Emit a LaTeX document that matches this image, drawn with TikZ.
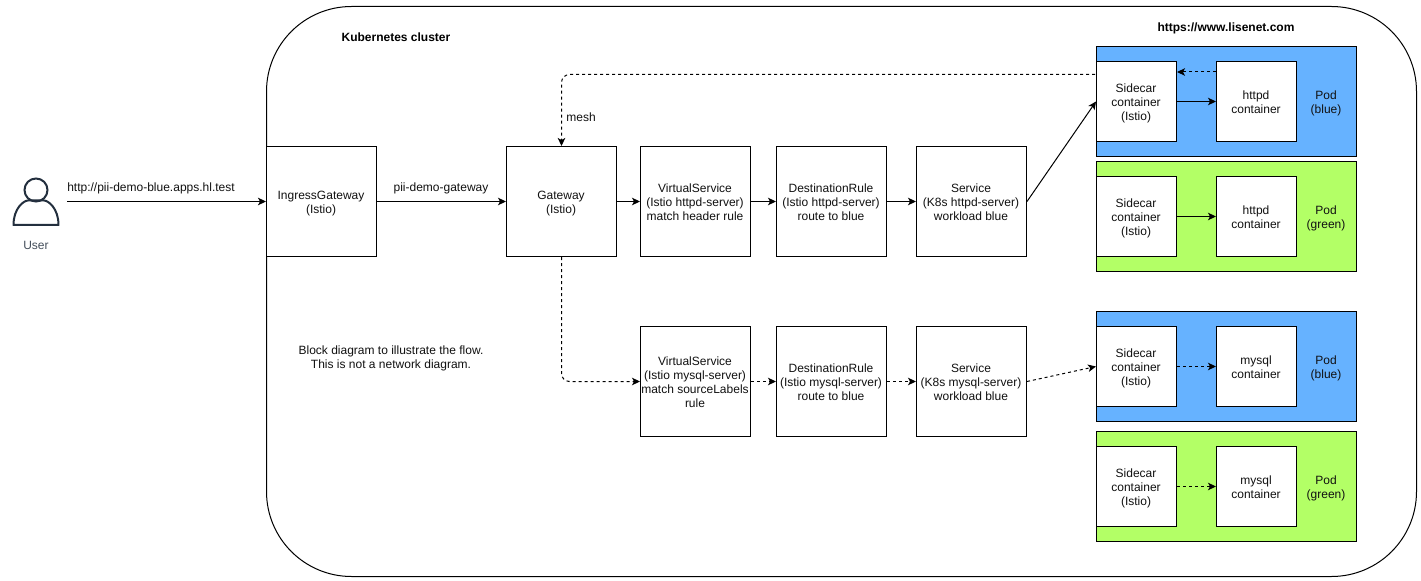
\documentclass[tikz,border=0pt]{standalone}
\usepackage{fontspec}
\setmainfont{Liberation Sans}
\usetikzlibrary{arrows.meta}
\definecolor{podblue}{HTML}{66B2FF}
\definecolor{podgreen}{HTML}{B3FF66}
\definecolor{usercol}{HTML}{232F3E}
\definecolor{txt}{HTML}{111111}
\tikzset{
  x=0.75pt,y=-0.75pt,
  every node/.style={font=\fontsize{9}{10.5}\selectfont,text=txt,align=center,inner sep=0pt},
  boldlbl/.style={font=\fontsize{9}{10.5}\selectfont\bfseries,text=black},
  bal/.style={execute at begin node={\rule{0pt}{#1}},execute at end node={\rule[-1.5pt]{0pt}{1.5pt}\kern0.75pt}},
  bal/.default=19.5pt,
  bigbox/.style={bal=#1,draw=black,line width=0.75pt,fill=white,minimum width=82.5pt,minimum height=82.5pt},
  bigbox/.default=30pt,
  ctbox/.style={bal=#1,draw=black,line width=0.75pt,fill=white,minimum width=60pt,minimum height=60pt},
  ctbox/.default=30pt,
  podbox/.style={draw=black,line width=0.75pt,minimum width=195pt,minimum height=82.5pt},
  bluepod/.style={podbox,fill=podblue},
  greenpod/.style={podbox,fill=podgreen},
  flow/.style={draw=black,line width=0.75pt,-{Stealth[length=6pt,width=5.6pt,inset=1.5pt]}},
  dflow/.style={flow,dash pattern=on 2.25pt off 2.25pt},
}
\begin{document}
\begin{tikzpicture}
\useasboundingbox (0,0) rectangle (1421,581);
% cluster
\draw[line width=0.75pt,draw=black,fill=white,rounded corners=63.75pt] (266.5,6.5) rectangle (1416.5,576.5);
\node[boldlbl] (cluster) at (396,37) {Kubernetes cluster};
\node[boldlbl] (site) at (1226,28.5) {https://www.lisenet.com};
% user icon
\node[minimum width=34.5pt,minimum height=36pt] (user) at (36,201) {};
\draw[usercol,line width=1.5pt] (36,190) circle [radius=11.5];
\draw[usercol,line width=1.5pt,line join=round] (13.5,225) .. controls (13.5,208) and (24,200.5) .. (28,200.5) -- (44,200.5) .. controls (48,200.5) and (58.5,208) .. (58.5,225) -- cycle;
\node[text=usercol!85!white] (userlbl) at (36,245) {User};
\coordinate (userout) at (67,201.5);
% pods
\node[bluepod]  (p1) at (1226.5,101.5) {};
\node[greenpod] (p2) at (1226.5,216.5) {};
\node[bluepod]  (p3) at (1226.5,366.5) {};
\node[greenpod] (p4) at (1226.5,486.5) {};
\node[bal] (p1t) at (1326.5,101.5) {Pod\\(blue)};
\node[bal] (p2t) at (1326.5,216.5) {Pod\\(green)};
\node[bal] (p3t) at (1326.5,366.5) {Pod\\(blue)};
\node[bal] (p4t) at (1326.5,486.5) {Pod\\(green)};
\node[ctbox] (s1) at (1136.5,101.5) {Sidecar\\container\\(Istio)};
\node[ctbox=19.5pt] (c1) at (1256.5,101.5) {httpd\\container};
\node[ctbox] (s2) at (1136.5,216.5) {Sidecar\\container\\(Istio)};
\node[ctbox=19.5pt] (c2) at (1256.5,216.5) {httpd\\container};
\node[ctbox] (s3) at (1136.5,366.5) {Sidecar\\container\\(Istio)};
\node[ctbox=19.5pt] (c3) at (1256.5,366.5) {mysql\\container};
\node[ctbox] (s4) at (1136.5,486.5) {Sidecar\\container\\(Istio)};
\node[ctbox=19.5pt] (c4) at (1256.5,486.5) {mysql\\container};
% main flow
\node[bigbox=19.5pt] (ing) at (321.5,201.5) {IngressGateway\\(Istio)};
\node[bigbox=19.5pt] (gw)  at (561.5,201.5) {Gateway\\(Istio)};
\node[bigbox] (vs1) at (695.5,201.5) {VirtualService\\(Istio httpd-server)\\match header rule};
\node[bigbox] (dr1) at (831.5,201.5) {DestinationRule\\(Istio httpd-server)\\route to blue};
\node[bigbox] (sv1) at (971.5,201.5) {Service\\(K8s httpd-server)\\workload blue};
\node[bigbox=40.5pt] (vs2) at (695.5,381.5) {VirtualService\\(Istio mysql-server)\\match sourceLabels\\rule};
\node[bigbox] (dr2) at (831.5,381.5) {DestinationRule\\(Istio mysql-server)\\route to blue};
\node[bigbox] (sv2) at (971.5,381.5) {Service\\(K8s mysql-server)\\workload blue};
% labels
\node (l1) at (151,188.5) {http://pii-demo-blue.apps.hl.test};
\node (l2) at (441,188.5) {pii-demo-gateway};
\node (l3) at (581,117) {mesh};
\node[bal] (note) at (391.5,356.5) {Block diagram to illustrate the flow.\\This is not a network diagram.};
% connectors
\coordinate (meshout) at (1095,74.5);
\coordinate (meshturn) at (561.5,74.5);
\coordinate (backfrom) at (1216,72);
\coordinate (backto) at (1177,72);
\coordinate (gwturn) at (561.5,381.5);
\draw[flow] (userout) -- (ing.west);
\draw[flow] (ing) -- (gw);
\draw[flow] (gw) -- (vs1);
\draw[flow] (vs1) -- (dr1);
\draw[flow] (dr1) -- (sv1);
\draw[flow] (sv1.east) -- (s1.west);
\draw[flow] (s1) -- (c1);
\draw[flow] (s2) -- (c2);
\draw[dflow] (s3) -- (c3);
\draw[dflow] (s4) -- (c4);
\draw[dflow] (backfrom) -- (backto);
\draw[dflow,rounded corners=6pt] (meshout) -- (meshturn) -- (gw.north);
\draw[dflow,rounded corners=6pt] (gw.south) -- (gwturn) -- (vs2.west);
\draw[dflow] (vs2) -- (dr2);
\draw[dflow] (dr2) -- (sv2);
\draw[dflow] (sv2.east) -- (s3.west);
\end{tikzpicture}
\end{document}
